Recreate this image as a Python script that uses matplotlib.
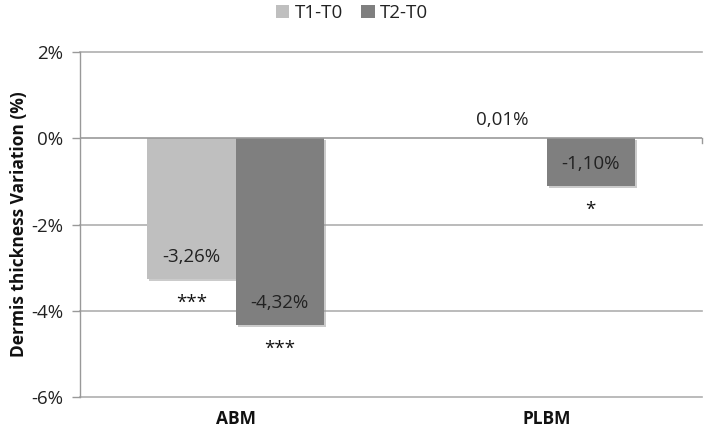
import matplotlib
matplotlib.use("Agg")
import matplotlib.pyplot as plt
import matplotlib.patheffects as pe
import numpy as np

categories = ["ABM", "PLBM"]
series_names = ["T1-T0", "T2-T0"]
t1_values = [-3.26, 0.01]
t2_values = [-4.32, -1.10]
t1_labels = ["-3,26%", "0,01%"]
t2_labels = ["-4,32%", "-1,10%"]
t1_sig = ["***", ""]
t2_sig = ["***", "*"]
yticks = [2, 0, -2, -4, -6]
ytick_labels = ["2%", "0%", "-2%", "-4%", "-6%"]

plt.rcParams['font.family'] = ['Open Sans', 'DejaVu Sans']

fig = plt.figure(figsize=(7.09, 4.32), dpi=100)
ax = fig.add_axes([80/709, 1-397/432, 622/709, (397-52)/432])

c1 = "#BFBFBF"
c2 = "#7F7F7F"
w = 0.284
x = np.arange(len(categories))
shadow = [pe.SimplePatchShadow(offset=(1.5, -1.5), shadow_rgbFace="#999999", alpha=0.5), pe.Normal()]
b1 = ax.bar(x - w/2, t1_values, w, color=c1, zorder=3, label=series_names[0])
b2 = ax.bar(x + w/2, t2_values, w, color=c2, zorder=3, label=series_names[1])
for r in list(b1) + list(b2):
    r.set_path_effects(shadow)

ax.set_xlim(-0.5, len(categories) - 0.5)
ax.set_ylim(-6, 2)
ax.set_yticks(yticks)
ax.set_yticklabels(ytick_labels, fontsize=13.5, color="#222222")
ax.tick_params(axis="y", length=6, color="#999999", width=1, pad=6)
for gy in yticks:
    if gy != 0:
        ax.axhline(gy, color="#AFAFAF", lw=1.2, zorder=1, clip_on=False)
ax.axhline(0, color="#999999", lw=1.2, zorder=4)
ax.plot([len(categories) - 0.5]*2, [0, -0.1], color="#999999", lw=1, clip_on=False, zorder=4)

for s in ["top", "right", "bottom"]:
    ax.spines[s].set_visible(False)
ax.spines["left"].set_color("#999999")
ax.spines["left"].set_linewidth(1)

ax.set_xticks([])
for xi, cat in zip(x, categories):
    ax.text(xi, -6.52, cat, ha="center", va="center", fontsize=12.5, fontweight="bold", color="#111111")

ax.set_ylabel("Dermis thickness Variation (%)", fontsize=12.5, fontweight="bold", color="#111111", labelpad=2)

def place(xs, vals, labels):
    for xi, v, lab in zip(xs, vals, labels):
        if v < -0.5:
            ax.text(xi, v + 0.5, lab, ha="center", va="center", fontsize=13.5, color="#222222", zorder=5)
        else:
            ax.text(xi, v + 0.42, lab, ha="center", va="center", fontsize=13.5, color="#222222", zorder=5)

place(x - w/2, t1_values, t1_labels)
place(x + w/2, t2_values, t2_labels)

def sig(xs, vals, sigs):
    for xi, v, s in zip(xs, vals, sigs):
        if s:
            ax.text(xi, v - 0.56, s, ha="center", va="center", fontsize=13.5, color="#111111", zorder=5)

sig(x - w/2, t1_values, t1_sig)
sig(x + w/2, t2_values, t2_sig)

leg = fig.legend(handles=[b1, b2], labels=series_names, loc="center", bbox_to_anchor=(352/709, 1-13/432),
                 ncol=2, frameon=False, fontsize=13.5, handlelength=0.7, handleheight=0.7,
                 handletextpad=0.3, columnspacing=1.0)
for t in leg.get_texts():
    t.set_color("#222222")
for h in leg.legend_handles:
    h.set_path_effects([])

fig.savefig("out.png", dpi=100)
